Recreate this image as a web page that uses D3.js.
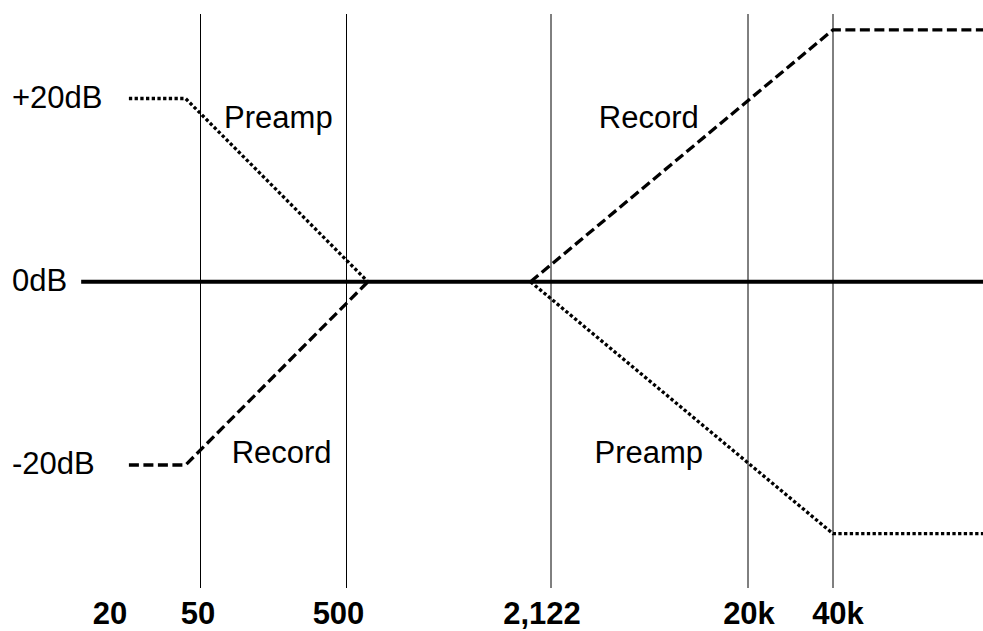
<!DOCTYPE html>
<html>
<head>
<meta charset="utf-8">
<script src="https://cdn.jsdelivr.net/npm/d3@7"></script>
<style>
  body { margin: 0; background: #fff; }
  text { font-family: "Liberation Sans", Arial, sans-serif; fill: #000; }
</style>
</head>
<body>
<div id="chart"></div>
<script>
// Frequencies (Hz) marked along the bottom
const tickFreqs = [20, 50, 500, 2122, 20000, 40000];
const tickLabels = ["20", "50", "500", "2,122", "20k", "40k"];
// Frequencies that get a thin vertical guide
const gridFreqs = [50, 500, 2122, 20000, 40000];
// Levels written on the left
const levelValues = [20, 0, -20];
const levelLabels = ["+20dB", "0dB", "-20dB"];

// Curves as [frequency, dB] corners
const zeroLine = [[10, 0], [76000, 0]];
const preampLow = [[26, 20], [45, 20], [670, 0]];
const recordLow = [[26, -20], [45, -20], [670, 0]];
const recordHigh = [[1960, 0], [40000, 27.5], [76000, 27.5]];
const preampHigh = [[1960, 0], [40000, -27.5], [76000, -27.5]];

// Curve names beside the slopes: [text, frequency, dB]
const curveNames = [
    ["Preamp", 290, 16.8],
    ["Record", 300, -19.8],
    ["Record", 11000, 16.8],
    ["Preamp", 11000, -19.8]
];

function drawChart() {
    const width = 983, height = 631;

    const svg = d3.select("#chart")
        .append("svg")
        .attr("width", width)
        .attr("height", height);

    // The frequency axis is schematic, so it is piecewise between the marked points
    const x = d3.scaleLinear()
        .domain(tickFreqs)
        .range([111, 200.5, 346.5, 551, 748, 833]);

    const y = d3.scaleLinear()
        .domain([-20, 20])
        .range([465, 98.5]);

    // Vertical guides
    svg.selectAll(".guide")
        .data(gridFreqs)
        .enter().append("line")
        .attr("class", "guide")
        .attr("x1", d => x(d))
        .attr("x2", d => x(d))
        .attr("y1", 14)
        .attr("y2", 588)
        .attr("stroke", "#000")
        .attr("stroke-width", 1);

    const line = d3.line()
        .x(d => x(d[0]))
        .y(d => y(d[1]));

    // 0dB reference
    svg.append("path")
        .datum(zeroLine)
        .attr("fill", "none")
        .attr("stroke", "#000")
        .attr("stroke-width", 4)
        .attr("d", line);

    // Record curve (dashed)
    [recordLow, recordHigh].forEach(pts => {
        svg.append("path")
            .datum(pts)
            .attr("fill", "none")
            .attr("stroke", "#000")
            .attr("stroke-width", 3.3)
            .attr("stroke-dasharray", "10,4.5")
            .attr("d", line);
    });

    // Preamp curve (dotted)
    [preampLow, preampHigh].forEach(pts => {
        svg.append("path")
            .datum(pts)
            .attr("fill", "none")
            .attr("stroke", "#000")
            .attr("stroke-width", 3.3)
            .attr("stroke-dasharray", "3.3,2.4")
            .attr("d", line);
    });

    // Level labels on the left
    svg.selectAll(".level")
        .data(levelValues)
        .enter().append("text")
        .attr("class", "level")
        .attr("x", 12)
        .attr("y", d => y(d))
        .attr("dy", "0.3em")
        .style("font-size", "31px")
        .text((d, i) => levelLabels[i]);

    // Frequency labels along the bottom (hand-placed a little off the guides)
    const labelNudge = [-1, -2.5, -8, -9, 1, 5];
    svg.selectAll(".freq")
        .data(tickFreqs)
        .enter().append("text")
        .attr("class", "freq")
        .attr("x", (d, i) => x(d) + labelNudge[i])
        .attr("y", 624)
        .attr("text-anchor", "middle")
        .style("font-size", "31px")
        .style("font-weight", "bold")
        .text((d, i) => tickLabels[i]);

    // Curve names
    svg.selectAll(".name")
        .data(curveNames)
        .enter().append("text")
        .attr("class", "name")
        .attr("x", d => x(d[1]))
        .attr("y", d => y(d[2]))
        .attr("text-anchor", "middle")
        .style("font-size", "31px")
        .text(d => d[0]);
}

drawChart();
</script>
</body>
</html>
